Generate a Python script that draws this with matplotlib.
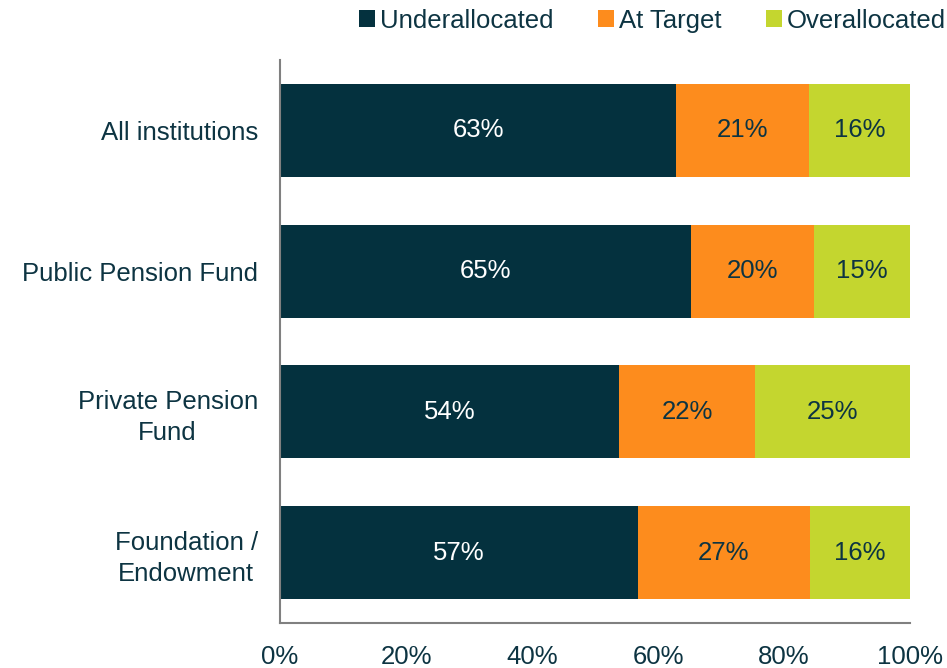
import numpy as np
import matplotlib
matplotlib.use("Agg")
import matplotlib.pyplot as plt

plt.rcParams['font.family'] = ['Liberation Sans', 'DejaVu Sans']

categories = ["All institutions", "Public Pension Fund", "Private Pension\nFund", "Foundation /\nEndowment"]
series = ["Underallocated", "At Target", "Overallocated"]
under = [62.9, 65.2, 53.8, 56.8]
target = [21.1, 19.6, 21.6, 27.3]
over = [16.0, 15.2, 24.6, 15.9]
xticks = [0, 20, 40, 60, 80, 100]

colors = ["#04313e", "#fd8c1d", "#c4d62f"]
label_colors = ["white", "#0d3442", "#0d3442"]
text_color = "#0d3442"
fs = 18.5

fig = plt.figure(figsize=(9.47, 6.68), dpi=100)
ax = fig.add_axes([280/947, 45/668, 630/947, 563/668])

y = np.arange(len(categories))
left = np.zeros(len(categories))
for vals, name, c, lc in zip([under, target, over], series, colors, label_colors):
    vals = np.array(vals)
    bars = ax.barh(y, vals, left=left, height=0.66, color=c, label=name)
    for b, v in zip(bars, vals):
        ax.text(b.get_x() + b.get_width()/2, b.get_y() + b.get_height()/2,
                "{:.0f}%".format(v), ha="center", va="center",
                color=lc, fontsize=fs)
    left += vals

ax.set_xlim(0, 100)
ax.set_ylim(len(categories) - 0.5, -0.5)
ax.set_yticks(y)
ax.set_yticklabels(categories, fontsize=fs, color=text_color,
                   multialignment="center", linespacing=1.35)
ax.set_xticks(xticks)
ax.set_xticklabels(["{}%".format(t) for t in xticks], fontsize=fs, color=text_color)
ax.tick_params(axis="y", length=0, pad=16)
ax.tick_params(axis="x", length=0, pad=16)
for s in ["top", "right"]:
    ax.spines[s].set_visible(False)
for s in ["left", "bottom"]:
    ax.spines[s].set_color("#808080")
    ax.spines[s].set_linewidth(1.5)

leg = fig.legend(loc="upper right", bbox_to_anchor=(0.999, 0.987), ncol=3,
                 frameon=False, fontsize=fs, handlelength=0.6, handleheight=0.6,
                 handletextpad=0.2, columnspacing=1.75, borderpad=0, borderaxespad=0)
for t in leg.get_texts():
    t.set_color(text_color)

fig.savefig("out.png", dpi=100)
